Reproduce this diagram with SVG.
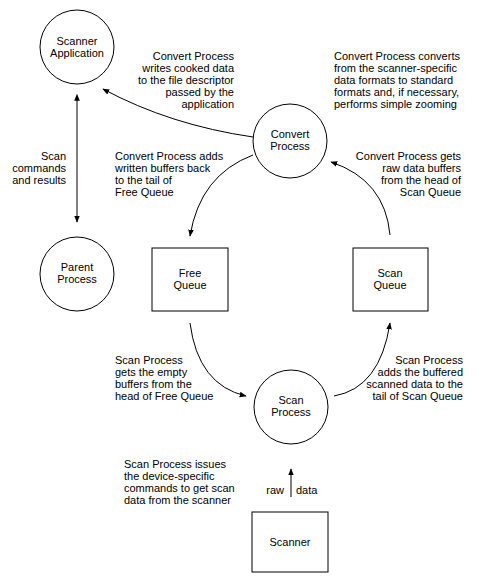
<svg xmlns="http://www.w3.org/2000/svg" width="483" height="585" viewBox="0 0 483 585">
<style>
.n{fill:#fff;stroke:#000;stroke-width:1}
.t{font-family:"Liberation Sans",Arial,sans-serif;font-size:11px;fill:#000}
.c{text-anchor:middle}
.r{text-anchor:end}
.e{fill:none;stroke:#000;stroke-width:1}
</style>
<defs>
<marker id="ah" viewBox="0 0 10 10" refX="9" refY="5" markerWidth="7" markerHeight="7" markerUnits="userSpaceOnUse" orient="auto">
<path d="M0,1 L10,5 L0,9 Z" fill="#000"/>
</marker>
<marker id="as" viewBox="0 0 10 10" refX="1" refY="5" markerWidth="7" markerHeight="7" markerUnits="userSpaceOnUse" orient="auto-start-reverse">
<path d="M0,1 L10,5 L0,9 Z" fill="#000"/>
</marker>
</defs>
<rect width="483" height="585" fill="#fff"/>
<g id="connectors">
<path class="e" d="M77,100 L77,222" marker-start="url(#as)" marker-end="url(#ah)"/>
<path class="e" d="M253,137 Q170,125 103,89" marker-end="url(#ah)"/>
<path class="e" d="M253,155 Q200,175 190,236" marker-end="url(#ah)"/>
<path class="e" d="M390,235 Q385,180 331,162" marker-end="url(#ah)"/>
<path class="e" d="M190,323 Q198,385 246,396" marker-end="url(#ah)"/>
<path class="e" d="M334,396 Q380,388 390,323" marker-end="url(#ah)"/>
<path class="e" d="M291,497 L291,469" marker-end="url(#ah)"/>
</g>
<g id="scanner-application">
<circle class="n" cx="77" cy="47" r="37"/>
<text class="t c" x="77" y="45">Scanner</text>
<text class="t c" x="77" y="57">Application</text>
</g>
<g id="parent-process">
<circle class="n" cx="77" cy="274" r="37"/>
<text class="t c" x="77" y="271">Parent</text>
<text class="t c" x="77" y="283">Process</text>
</g>
<g id="convert-process">
<circle class="n" cx="290" cy="141" r="37"/>
<text class="t c" x="290" y="138">Convert</text>
<text class="t c" x="290" y="150">Process</text>
</g>
<g id="free-queue">
<rect class="n" x="152" y="248" width="76" height="63"/>
<text class="t c" x="190" y="277">Free</text>
<text class="t c" x="190" y="289">Queue</text>
</g>
<g id="scan-queue">
<rect class="n" x="353" y="248" width="75" height="63"/>
<text class="t c" x="390" y="277">Scan</text>
<text class="t c" x="390" y="289">Queue</text>
</g>
<g id="scan-process">
<circle class="n" cx="291" cy="407" r="37"/>
<text class="t c" x="291" y="404">Scan</text>
<text class="t c" x="291" y="416">Process</text>
</g>
<g id="scanner">
<rect class="n" x="252" y="512" width="76" height="60"/>
<text class="t c" x="290" y="546">Scanner</text>
</g>
<g id="labels">
<text class="t r"><tspan x="234" y="60">Convert Process</tspan><tspan x="234" y="72">writes cooked data</tspan><tspan x="234" y="84">to the file descriptor</tspan><tspan x="234" y="96">passed by the</tspan><tspan x="234" y="108">application</tspan></text>
<text class="t"><tspan x="334" y="60">Convert Process converts</tspan><tspan x="334" y="72">from the scanner-specific</tspan><tspan x="334" y="84">data formats to standard</tspan><tspan x="334" y="96">formats and, if necessary,</tspan><tspan x="334" y="108">performs simple zooming</tspan></text>
<text class="t"><tspan x="115" y="160">Convert Process adds</tspan><tspan x="115" y="172">written buffers back</tspan><tspan x="115" y="184">to the tail of</tspan><tspan x="115" y="196">Free Queue</tspan></text>
<text class="t r"><tspan x="461" y="160">Convert Process gets</tspan><tspan x="461" y="172">raw data buffers</tspan><tspan x="461" y="184">from the head of</tspan><tspan x="461" y="196">Scan Queue</tspan></text>
<text class="t r"><tspan x="66" y="160">Scan</tspan><tspan x="66" y="172">commands</tspan><tspan x="66" y="184">and results</tspan></text>
<text class="t"><tspan x="115" y="364">Scan Process</tspan><tspan x="115" y="376">gets the empty</tspan><tspan x="115" y="388">buffers from the</tspan><tspan x="115" y="400">head of Free Queue</tspan></text>
<text class="t r"><tspan x="463" y="364">Scan Process</tspan><tspan x="463" y="376">adds the buffered</tspan><tspan x="463" y="388">scanned data to the</tspan><tspan x="463" y="400">tail of Scan Queue</tspan></text>
<text class="t"><tspan x="124" y="468">Scan Process issues</tspan><tspan x="124" y="480">the device-specific</tspan><tspan x="124" y="492">commands to get scan</tspan><tspan x="124" y="504">data from the scanner</tspan></text>
<text class="t r" x="284" y="494">raw</text>
<text class="t" x="296" y="494">data</text>
</g>
</svg>
